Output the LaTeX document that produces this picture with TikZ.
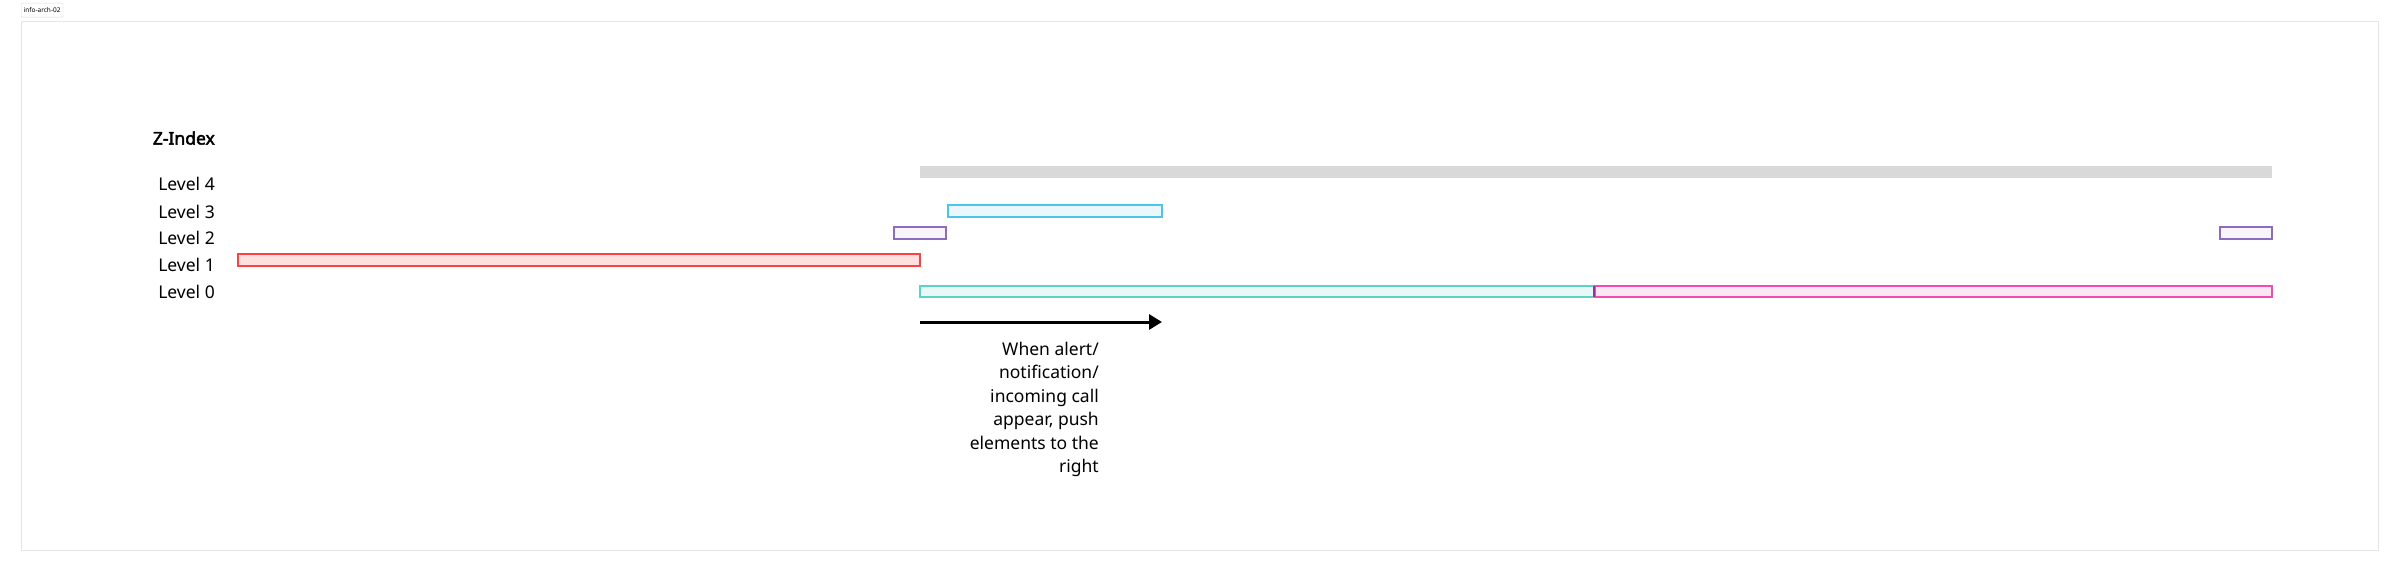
\documentclass[tikz,border=0pt]{standalone}
\usepackage{fontspec}
\setmainfont{Noto Sans}[AutoFakeBold=2.5]
\usetikzlibrary{arrows.meta}
\definecolor{pur}{HTML}{8A6DBE}
\definecolor{cy}{HTML}{4CC4EC}
\definecolor{tl}{HTML}{5CD3C3}
\begin{document}
\begin{tikzpicture}[x=1pt,y=-1pt,
  bar/.style={line width=1.3pt},
  lvl/.style={anchor=east,font=\fontsize{17.5}{20}\selectfont,inner sep=0pt}]
\useasboundingbox (0,0) rectangle (2400,572);
\node[draw=black!15,rounded corners=1pt,font=\fontsize{6.5}{7}\selectfont,inner sep=2.5pt,minimum height=14pt,anchor=north west] (tag) at (21,3) {info-arch-02};
\draw[black!10] (21,21) rectangle (2378,550);
\node[anchor=east,inner sep=0pt,font=\fontsize{17.5}{20}\selectfont\bfseries] (z) at (215,138) {Z-Index};
\node[lvl] (l4) at (215,184) {Level 4};
\node[lvl] (l3) at (215,212) {Level 3};
\node[lvl] (l2) at (215,238) {Level 2};
\node[lvl] (l1) at (215,265) {Level 1};
\node[lvl] (l0) at (215,292) {Level 0};
\fill[black!15] (920,166) rectangle (2272,178);
\draw[bar,draw=cy,fill=cy!12] (948,205) rectangle (1162,217);
\draw[bar,draw=pur,fill=pur!7] (894,227) rectangle (946,239);
\draw[bar,draw=pur,fill=pur!7] (2220,227) rectangle (2272,239);
\draw[bar,draw=red!75,fill=red!12] (238,254) rectangle (920,266);
\draw[bar,draw=tl,fill=tl!15] (920,286) rectangle (1594,297);
\draw[bar,draw=magenta!70,fill=magenta!10] (1595,286) rectangle (2272,297);
\draw[line width=2pt,violet!80] (1594,286) -- (1594,297);
\coordinate (a1) at (920,322);
\coordinate (a2) at (1162,322);
\draw[line width=3pt,-{Triangle[length=13pt,width=15pt]}] (a1) -- (a2);
\node[anchor=north east,align=right,font=\fontsize{17.5}{23.4}\selectfont,inner sep=0pt] (txt) at (1099,342)
 {When alert/\\notification/\\incoming call\\appear, push\\elements to the\\right};
\end{tikzpicture}
\end{document}
